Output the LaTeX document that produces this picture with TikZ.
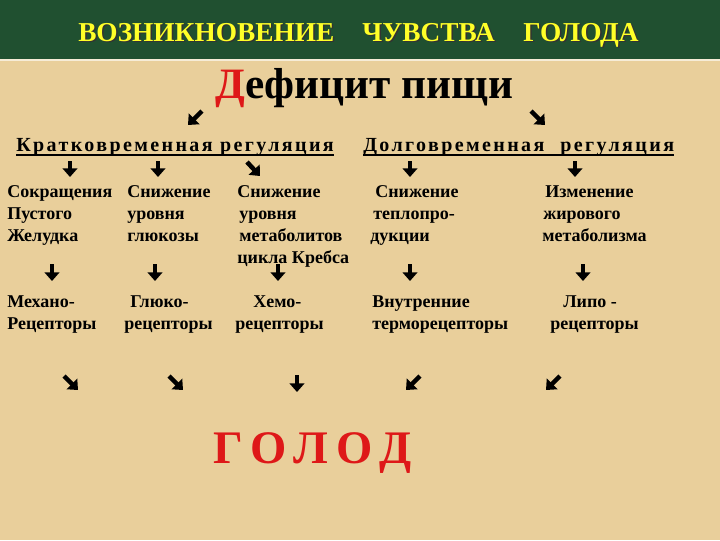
\documentclass[tikz,border=0pt]{standalone}
\usepackage{fontspec}
\setmainfont{Liberation Serif}
\newfontfamily\headfont[LetterSpace=12]{Liberation Serif}
\usetikzlibrary{arrows.meta,calc}
\definecolor{bg}{RGB}{233,207,155}
\definecolor{hdr}{RGB}{32,80,48}
\definecolor{ylw}{RGB}{255,255,40}
\definecolor{rd}{RGB}{222,24,24}
\tikzset{
  txt/.style={anchor=base west, inner sep=0pt, font=\fontsize{13.5}{16.5}\selectfont\bfseries},
  head/.style={anchor=base west, inner sep=0pt, font=\fontsize{15}{18}\headfont\bfseries},
  hdrtxt/.style={anchor=base west, inner sep=0pt, text=ylw, font=\fontsize{20.5}{24}\selectfont\bfseries},
  warrow/.style={line width=3.4pt, -{Triangle[length=6.5pt,width=11pt]}, black},
}
\begin{document}
\begin{tikzpicture}[x=0.75pt,y=-0.75pt]
\useasboundingbox (0,0) rectangle (720,540);
\fill[bg] (0,0) rectangle (720,540);
\fill[hdr] (0,0) rectangle (720,59);
\draw[white!60!bg, line width=1pt] (0,60) -- (720,60);

% header with shadow
\foreach \x/\w [count=\i] in {78/ВОЗНИКНОВЕНИЕ, 362/ЧУВСТВА, 523/ГОЛОДА}{
  \node[hdrtxt, text=black!80] at (\x+1.5,42.5) {\w};
  \node[hdrtxt] (h\i) at (\x,41) {\w};
}

% Deficit
\node[anchor=base west, inner sep=0pt, font=\fontsize{32.5}{36}\selectfont\bfseries] (def) at (215,98) {\textcolor{rd}{Д}ефицит пищи};

% arrows from deficit
\draw[warrow] (202,111) -- (188,125);
\draw[warrow] (531,111) -- (545,125);

% regulation headings
\node[head] (kr) at (16,151) {Кратковременная регуляция};
\node[head] (dl) at (363,151) {Долговременная\hspace{12pt}регуляция};
\draw[line width=1.5pt] ($(kr.base west)+(0,4)$) -- ($(kr.base east)+(0,4)$);
\draw[line width=1.5pt] ($(dl.base west)+(0,4)$) -- ($(dl.base east)+(0,4)$);

% row B arrows
\foreach \x in {70,158,410,575}{ \draw[warrow] (\x,161) -- (\x,177); }
\draw[warrow] (247,162) -- (260,176);

% row 2 texts
\node[txt] (a11) at (7,197) {Сокращения};
\node[txt] (a12) at (7,219) {Пустого};
\node[txt] (a13) at (7,241) {Желудка};
\node[txt] (a21) at (127,197) {Снижение};
\node[txt] (a22) at (127,219) {уровня};
\node[txt] (a23) at (127,241) {глюкозы};
\node[txt] (a31) at (237,197) {Снижение};
\node[txt] (a32) at (239,219) {уровня};
\node[txt] (a33) at (239,241) {метаболитов};
\node[txt] (a34) at (237,263) {цикла Кребса};
\node[txt] (a41) at (375,197) {Снижение};
\node[txt] (a42) at (373,219) {теплопро-};
\node[txt] (a43) at (370,241) {дукции};
\node[txt] (a51) at (545,197) {Изменение};
\node[txt] (a52) at (543,219) {жирового};
\node[txt] (a53) at (542,241) {метаболизма};

% row C arrows
\foreach \x in {52,155,278,410,583}{ \draw[warrow] (\x,264) -- (\x,281); }

% row 3 texts
\node[txt] (b11) at (7,307) {Механо-};
\node[txt] (b12) at (7,329) {Рецепторы};
\node[txt] (b21) at (130,307) {Глюко-};
\node[txt] (b22) at (124,329) {рецепторы};
\node[txt] (b31) at (253,307) {Хемо-};
\node[txt] (b32) at (235,329) {рецепторы};
\node[txt] (b41) at (372,307) {Внутренние};
\node[txt] (b42) at (372,329) {терморецепторы};
\node[txt] (b51) at (563,307) {Липо -};
\node[txt] (b52) at (550,329) {рецепторы};

% row D arrows
\draw[warrow] (64,376) -- (78,390);
\draw[warrow] (169,376) -- (183,390);
\draw[warrow] (297,375) -- (297,392);
\draw[warrow] (420,376) -- (406,390);
\draw[warrow] (560,376) -- (546,390);

% hunger
\node[anchor=base west, inner sep=0pt, text=rd, font=\fontsize{35}{40}\selectfont\bfseries] (gol) at (213,463) {Г\hspace{5.5pt}О\hspace{5.5pt}Л\hspace{5.5pt}О\hspace{5.5pt}Д};
\end{tikzpicture}
\end{document}
